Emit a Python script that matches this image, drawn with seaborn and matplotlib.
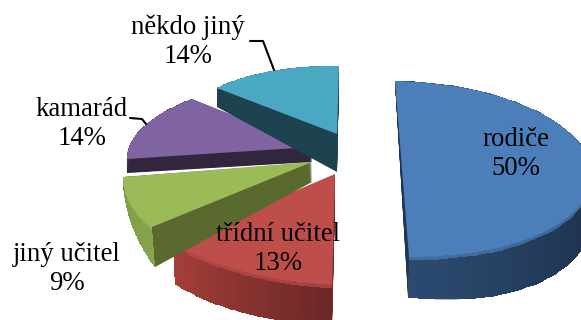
import numpy as np
import seaborn as sns
import matplotlib.pyplot as plt
from matplotlib.transforms import Affine2D

sns.set_style("white")
plt.rcParams['font.family'] = ['Liberation Serif', 'DejaVu Serif']

# chart data
categories = ["rodiče", "třídní učitel", "jiný učitel", "kamarád", "někdo jiný"]
shares = [50, 13, 9, 14, 14]

# look of each slice
top_colors = ["#4C7EBA", "#BD4E4A", "#9BBB59", "#8064A2", "#4BA8C2"]
wall_colors = ["#1F3550", "#7A2E2C", "#5A6A2E", "#32263F", "#1E4350"]
rim_start = ["#2C4A70", "#A53E3A", "#7F9C48", "#46345A", "#1E4350"]
rim_end = ["#1E334E", "#6A2826", "#86A44C", "#46345A", "#1E4350"]
rim_gain = [2.6, 1.0, 1.0, 1.0, 1.0]
draw_order = [4, 0, 1, 2, 3]  # slice index -> stacking (back to front)

# fake 3D projection in image pixels: apex, end of theta1, end of theta2
# (blue is a half disc, so its second point sits at the middle of the arc)
top_frames = [
    [(402, 169), (409, 257), (592, 172)],
    [(335, 174), (173, 243), (332, 285)],
    [(312, 162), (123, 177), (152, 227)],
    [(312, 147), (192, 99), (127, 159)],
    [(337, 134), (339, 66), (217, 88)],
]
bottom_frames = [
    [(401.5, 189), (408, 297), (592, 212)],
    [(335, 205), (175, 284), (332, 325)],
    [(312, 182), (123, 179), (155, 267)],
    [(312, 162), (192, 105), (127, 173)],
    [(337, 172), (339, 78), (217, 107)],
]

label_pos = [(516, 154), (278, 249), (67, 269), (82, 124), (188, 42)]
leaders = [
    ([250, 263, 274], [41, 41, 70]),
    ([130, 142, 146], [118, 119, 124]),
]
n_layers = 30


def rgb(c):
    return np.array(plt.matplotlib.colors.to_rgb(c))


def fit_frame(frame, a1, a2):
    apex, p1, p2 = [np.array(p, dtype=float) for p in frame]
    unit = np.array([[np.cos(a1), np.cos(a2)], [np.sin(a1), np.sin(a2)]])
    lin = np.column_stack([p1 - apex, p2 - apex]) @ np.linalg.inv(unit)
    m = np.eye(3)
    m[:2, :2] = lin
    m[:2, 2] = apex
    return m


fig = plt.figure(figsize=(5.81, 3.2), dpi=100)
ax = fig.add_axes([0, 0, 1, 1])

base = lambda i: (draw_order[i] + 1) * 1000

for k in range(n_layers + 1):
    f = 1 - k / n_layers  # 1 = bottom, 0 = top surface
    cols = top_colors if k == n_layers else wall_colors
    wedges, _ = ax.pie(shares, colors=cols, startangle=90, counterclock=False,
                       wedgeprops={'linewidth': 0})
    for i, w in enumerate(wedges):
        t1, t2 = np.radians(w.theta1), np.radians(w.theta2)
        a1, a2 = (t1, t2) if i else (t1, 0.0)
        m = (1 - f) * fit_frame(top_frames[i], a1, a2) + f * fit_frame(bottom_frames[i], a1, a2)
        w.set_transform(Affine2D(m) + ax.transData)
        w.set_zorder(base(i) + (900 if k == n_layers else k))

        # curved outer wall, once per slice
        if k == 0:
            mt = fit_frame(top_frames[i], a1, a2)
            mb = fit_frame(bottom_frames[i], a1, a2)
            th = np.linspace(t1, t2, 61)
            dep = np.linspace(0, 1, 13)
            unit = np.stack([np.cos(th), np.sin(th), np.ones_like(th)])
            pt, pb = mt @ unit, mb @ unit
            X = np.outer(1 - dep, pt[0]) + np.outer(dep, pb[0])
            Y = np.outer(1 - dep, pt[1]) + np.outer(dep, pb[1])
            s = np.clip(np.linspace(0, 1, 60) * rim_gain[i], 0, 1)[None, :, None]
            C = (1 - s) * rgb(rim_start[i]) + s * rgb(rim_end[i])
            C = np.repeat(C, 12, axis=0)
            bevel = np.clip(1 - (dep[:-1] + 0.04) / 0.12, 0, 1)[:, None, None]
            C = (1 - bevel) * C + bevel * rgb(top_colors[i])
            ax.pcolormesh(X, Y, C, zorder=base(i) + 500, linewidth=0)

for (lx, ly), cat, val in zip(label_pos, categories, shares):
    ax.text(lx, ly, f"{cat}\n{val}%", ha='center', va='center', fontsize=19.3,
            linespacing=1.22, color='black', zorder=9000)

for xs, ys in leaders:
    ax.plot(xs, ys, color='black', lw=1.5, zorder=8000)

ax.set_aspect('auto')
ax.set_xlim(0, 581)
ax.set_ylim(320, 0)
ax.axis('off')

fig.savefig("out.png", dpi=100)
